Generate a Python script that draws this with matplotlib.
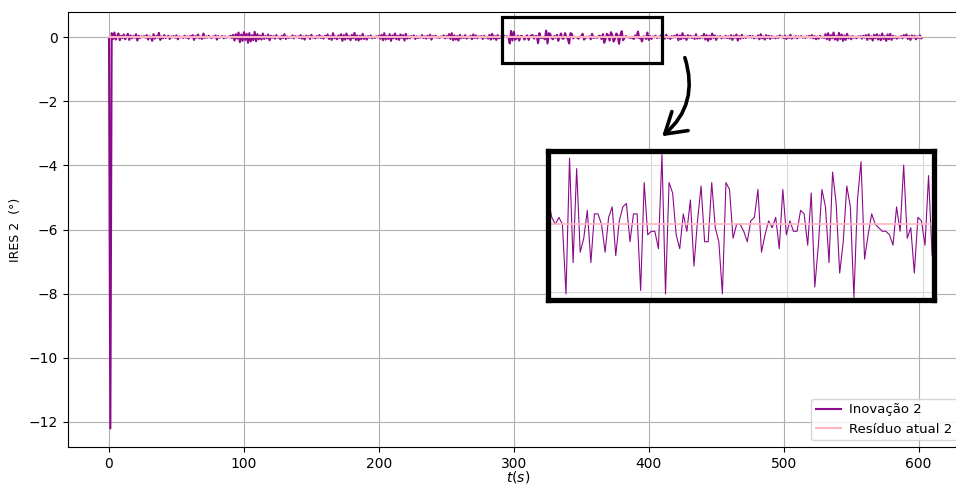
import numpy as np
import matplotlib
matplotlib.use('Agg')
import matplotlib.pyplot as plt
from matplotlib.patches import Rectangle, FancyArrowPatch

# first two samples (start + big transient)
inicio = [0.0, -12.2]

# noise in units of 0.01 deg, t = 2..291
ruido_a = [
  12, -6, 14, -8, 3, 11, -10, 4, -3, 8,
  -7, 2, 10, -9, 5, -4, 3, -2, 9, -11,
  4, -3, 2, -1, 3, -2, 6, -8, 2, 1,
  -12, 9, -5, 3, -2, 13, -9, 2, -4, 6,
  -3, 1, 4, -6, 2, -1, 3, -2, 5, -7,
  2, -1, 1, -3, 4, -2, 2, -5, 3, -1,
  6, -9, 3, -2, 8, -4, 1, -6, 11, -3,
  2, -2, 4, -1, -3, 2, -1, 5, -8, 3,
  -2, 1, 3, -4, 2, -2, 1, -1, 4, -3,
  7, -11, 9, -5, 14, -16, 8, -12, 15, -9,
  10, -18, 12, -14, 6, -10, 16, -13, 9, -7,
  5, -8, 11, -6, 3, -4, 8, -10, 4, -2,
  3, -5, 6, -2, 1, -7, 4, -3, 9, -6,
  2, -3, 1, -2, 5, -4, 3, -1, 2, -3,
  6, -5, 2, -8, 4, -1, 3, -6, 7, -2,
  1, -4, 3, -2, 6, -3, 2, -5, 4, -1,
  8, -6, 3, -9, 12, -4, 2, -7, 5, -3,
  9, -12, 6, -8, 11, -5, 3, -10, 7, -4,
  13, -9, 5, -11, 4, -7, 10, -6, 2, -8,
  3, -2, 5, -4, 1, -3, 2, -1, 4, -5,
  7, -10, 12, -8, 3, -6, 9, -12, 5, -4,
  11, -7, 4, -9, 8, -3, 6, -11, 10, -5,
  2, -4, 3, -1, 5, -6, 2, -3, 1, -2,
  6, -3, 2, -5, 4, -2, 7, -8, 3, -1,
  4, -2, 1, -3, 2, -1, 5, -4, 3, -2,
  9, -6, 12, -10, 5, -8, 3, -11, 7, -4,
  2, -3, 6, -5, 1, -2, 4, -7, 8, -3,
  5, -4, 2, -1, 3, -6, 4, -2, 1, -5,
  7, -8, 10, -5, 3, -9, 6, -4, 2, -3,
]

# t = 292..400 (the zoomed window)
ruido_b = [
  7, 2, 0, 2, 0, -20, 19, -11, 16, -8,
  -4, 4, -11, 3, 3, 0, -8, 2, 5, -9,
  1, 5, 6, -5, 3, 3, -19, 12, -3, -2,
  -2, -7, 20, -20, 12, 9, -3, -7, 3, -2,
  7, -12, 1, 11, -5, -5, 12, -1, -5, -20,
  12, 10, -4, 0, 0, -2, -5, 1, 2, 10,
  -8, -3, 1, -1, 2, -7, 10, -3, 1, -2,
  -2, 4, 3, -6, 9, -18, -6, 10, 5, -11,
  15, 6, -14, -5, 11, 5, -21, 7, 18, -10,
  -3, 3, 0, -1, -2, -2, -3, -6, 5, -2,
  17, -4, -1, -14, 2, 1, -6, 14, -9,
]

# t = 401..602
ruido_c = [
  3, -6, 2, -1, 4, -3, 1, -2, 5, -4,
  2, -5, 7, -3, 1, -6, 3, -2, 4, -1,
  8, -10, 5, -7, 12, -4, 3, -9, 6, -2,
  4, -3, 2, -6, 9, -5, 1, -4, 3, -2,
  10, -8, 6, -12, 4, -7, 11, -3, 5, -9,
  2, -1, 3, -4, 1, -2, 4, -3, 2, -5,
  6, -9, 4, -2, 8, -11, 3, -5, 7, -3,
  1, -3, 2, -1, 4, -2, 3, -4, 1, -2,
  5, -7, 9, -4, 2, -8, 6, -3, 4, -6,
  3, -2, 1, -4, 2, -3, 5, -1, 2, -3,
  4, -6, 2, -3, 7, -5, 1, -2, 3, -4,
  2, -1, 3, -2, 1, -3, 2, -1, 4, -2,
  6, -4, 3, -7, 2, -5, 4, -2, 1, -3,
  9, -7, 12, -10, 6, -4, 14, -8, 3, -11,
  13, -6, 8, -12, 5, -9, 10, -4, 2, -7,
  3, -2, 1, -4, 2, -1, 3, -5, 4, -2,
  6, -9, 8, -5, 2, -11, 7, -4, 9, -8,
  5, -10, 11, -6, 3, -12, 8, -7, 10, -9,
  4, -3, 2, -5, 1, -2, 3, -4, 6, -1,
  8, -6, 3, -9, 5, -2, 4, -7, 2, -3,
  5, -4,
]

inovacao = np.array(inicio + [v / 100 for v in ruido_a + ruido_b + ruido_c])
t = np.arange(len(inovacao))
residuo = np.zeros(len(inovacao))

roxo = '#8b0a8b'
rosa = '#ffb6c1'

fig = plt.figure(figsize=(9.56, 4.86), dpi=100)
ax = fig.add_axes([0.0711, 0.0802, 0.942, 0.8951])
ax.plot(t, inovacao, color=roxo, lw=1.5, label='Inovação 2')
ax.plot(t, residuo, color=rosa, lw=1.5, label='Resíduo atual 2')
ax.set_xlim(-30.4, 637)
ax.set_ylim(-12.78, 0.78)
ax.set_yticks([-12, -10, -8, -6, -4, -2, 0])
ax.grid(True)
ax.set_xlabel('$t(s)$', labelpad=-1)
ax.set_ylabel('IRES 2  (°)', fontsize=9, labelpad=5)
ax.legend(loc='lower right', bbox_to_anchor=(0.994, 0.0), fontsize=9.5,
          handlelength=1.9, handletextpad=0.6, borderpad=0.35)

# box around the zoomed region
ax.add_patch(Rectangle((291.5, -0.81), 118.5, 1.43, fill=False,
                       edgecolor='black', lw=2.3, zorder=5))

# zoom inset
axz = fig.add_axes([0.5727, 0.3837, 0.4038, 0.3066])
axz.plot(t, inovacao, color=roxo, lw=0.8)
axz.plot(t, residuo, color=rosa, lw=1.2)
axz.set_xlim(291.8, 400.4)
axz.set_ylim(-0.216, 0.212)
axz.set_xticks([320.8, 359.3, 397.3])
axz.set_yticks([0.169, -0.016, -0.193])
axz.tick_params(length=0, labelbottom=False, labelleft=False)
axz.grid(True, color='#d8d8d8', lw=0.8)
for s in axz.spines.values():
    s.set_linewidth(3.8)
    s.set_color('black')

seta = FancyArrowPatch((684 / 956, 1 - 55 / 486), (660 / 956, 1 - 138 / 486),
                       transform=fig.transFigure,
                       connectionstyle='arc3,rad=-0.35',
                       arrowstyle='->,head_length=0.8,head_width=0.5',
                       mutation_scale=18, lw=2.6, color='black')
fig.patches.append(seta)

fig.savefig('out.png', dpi=100)
